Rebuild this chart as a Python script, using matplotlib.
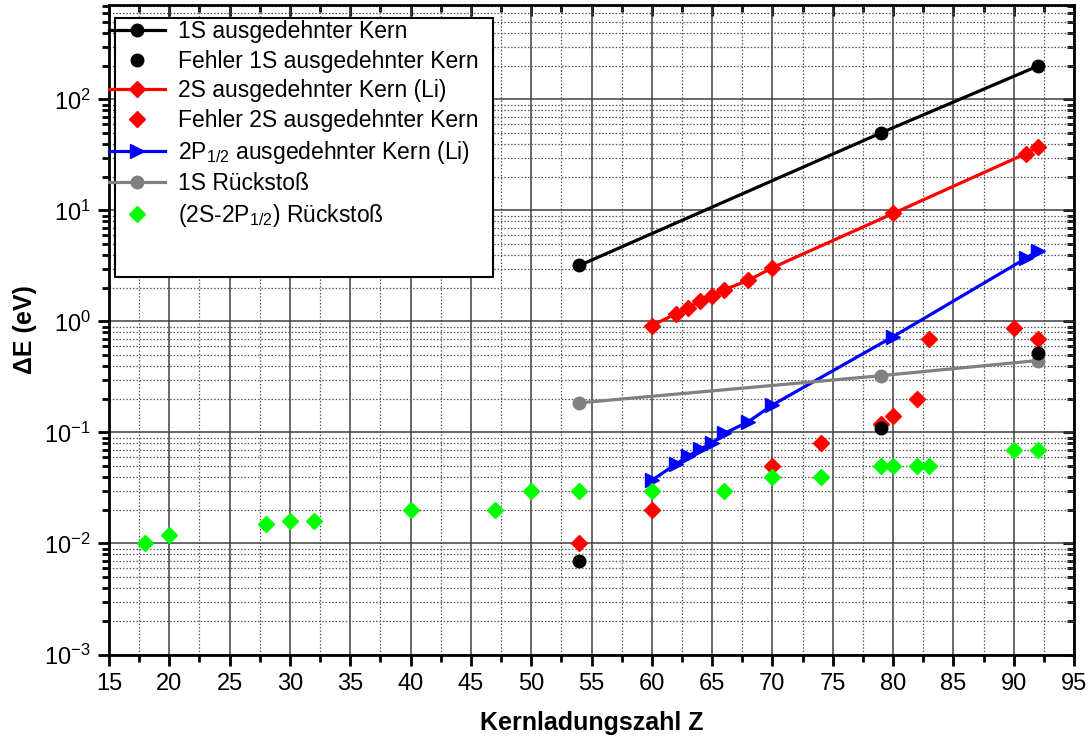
import numpy as np
import matplotlib
matplotlib.use("Agg")
import matplotlib.pyplot as plt
from matplotlib.ticker import MultipleLocator, LogLocator
from matplotlib.patches import Rectangle

plt.rcParams['font.family'] = ['Liberation Sans', 'DejaVu Sans']
plt.rcParams['mathtext.fontset'] = 'custom'
plt.rcParams['mathtext.rm'] = 'Liberation Sans'
plt.rcParams['mathtext.it'] = 'Liberation Sans:italic'
plt.rcParams['mathtext.bf'] = 'Liberation Sans:bold'

# 1S, ausgedehnter Kern
z_1s = [54, 79, 92]
e_1s = [3.2, 50, 200]
err_1s = [0.007, 0.11, 0.52]

# 2S, ausgedehnter Kern (Li)
z_2s = [60, 62, 63, 64, 65, 66, 68, 70, 80, 91, 92]
e_2s = [0.92, 1.17, 1.33, 1.52, 1.68, 1.93, 2.35, 3.05, 9.4, 32.5, 37.5]
z_err2s = [54, 60, 70, 74, 79, 80, 82, 83, 90, 92]
err_2s = [0.01, 0.02, 0.05, 0.08, 0.12, 0.14, 0.2, 0.69, 0.88, 0.69]

# 2P1/2, ausgedehnter Kern (Li)
z_2p = [60, 62, 63, 64, 65, 66, 68, 70, 80, 91, 92]
e_2p = [0.037, 0.052, 0.061, 0.071, 0.08, 0.098, 0.125, 0.177, 0.73, 3.7, 4.35]

# Rueckstoss
z_rec1s = [54, 79, 92]
e_rec1s = [0.185, 0.325, 0.445]
z_rec2s = [18, 20, 28, 30, 32, 40, 47, 50, 54, 60, 66, 70, 74, 79, 80, 82, 83, 90, 92]
e_rec2s = [0.01, 0.012, 0.015, 0.016, 0.016, 0.02, 0.02, 0.03, 0.03, 0.03,
           0.03, 0.04, 0.04, 0.05, 0.05, 0.05, 0.05, 0.07, 0.07]

W, H = 1091, 744
L, R, T, B = 109, 1074, 5, 654.5
fig = plt.figure(figsize=(W/100, H/100), dpi=100)
ax = fig.add_axes([L/W, 1-B/H, (R-L)/W, (B-T)/H])

lw = 2.3
ax.plot(z_1s, e_1s, '-o', color='black', lw=lw, ms=9, label='1S ausgedehnter Kern', zorder=6)
ax.plot(z_1s, err_1s, 'o', color='black', ms=9, label='Fehler 1S ausgedehnter Kern', zorder=7)
ax.plot(z_2s, e_2s, '-D', color='red', lw=lw, ms=8.5, label='2S ausgedehnter Kern (Li)', zorder=6)
ax.plot(z_err2s, err_2s, 'D', color='red', ms=8.5, label='Fehler 2S ausgedehnter Kern', zorder=6)
ax.plot(z_2p, e_2p, '->', color='blue', lw=lw, ms=9.5, label=r'2P$_{\mathregular{1/2}}$ ausgedehnter Kern (Li)', zorder=6)
ax.plot(z_rec1s, e_rec1s, '-o', color='#808080', lw=lw, ms=9, label='1S Rückstoß', zorder=6)
ax.plot(z_rec2s, e_rec2s, 'D', color='#00ff00', ms=8.5, label=r'(2S-2P$_{\mathregular{1/2}}$) Rückstoß', zorder=6)

ax.set_yscale('log')
ax.set_xlim(15, 95)
ax.set_ylim(1e-3, 710)
ax.xaxis.set_major_locator(MultipleLocator(5))
ax.xaxis.set_minor_locator(MultipleLocator(2.5))
ax.yaxis.set_major_locator(LogLocator(base=10, numticks=20))
ax.yaxis.set_minor_locator(LogLocator(base=10, subs=np.arange(2, 10), numticks=20))

ax.grid(which='major', color='#404040', lw=1.1, ls='-')
ax.grid(which='minor', color='#555555', lw=0.9, ls=(0, (1.2, 1.5)))
ax.set_axisbelow(True)

for s in ax.spines.values():
    s.set_linewidth(2)
ax.tick_params(which='both', direction='out', top=False, right=False, width=2,
               labelsize=17, pad=5)
ax.tick_params(which='major', length=8)
ax.tick_params(which='minor', length=5)
# inward ticks on the top and right edges
ax2 = ax.secondary_xaxis('top')
ax2.xaxis.set_major_locator(MultipleLocator(5))
ax2.xaxis.set_minor_locator(MultipleLocator(2.5))
ax2.tick_params(which='both', direction='in', width=2, labeltop=False)
ax2.tick_params(which='major', length=8)
ax2.tick_params(which='minor', length=5)
ax3 = ax.secondary_yaxis('right')
ax3.yaxis.set_major_locator(LogLocator(base=10, numticks=20))
ax3.yaxis.set_minor_locator(LogLocator(base=10, subs=np.arange(2, 10), numticks=20))
ax3.tick_params(which='both', direction='in', width=2, labelright=False)
ax3.tick_params(which='major', length=8)
ax3.tick_params(which='minor', length=5)

ax.set_xlabel('Kernladungszahl Z', fontsize=18, fontweight='bold', labelpad=12)
ax.set_ylabel(r'ΔE (eV)', fontsize=18, fontweight='bold', labelpad=5)

box = Rectangle(((115-L)/(R-L), (B-277)/(B-T)), (493-115)/(R-L), (277-18)/(B-T),
                transform=ax.transAxes, facecolor='white', edgecolor='black',
                lw=1.5, zorder=9)
ax.add_patch(box)
leg = ax.legend(loc='upper left', bbox_to_anchor=(0.0, 1-15/(B-T)), borderaxespad=0,
                borderpad=0.0, frameon=False, fontsize=16.5, handlelength=2.45,
                handletextpad=0.55, labelspacing=0.29)
leg.set_zorder(10)

fig.savefig('out.png', dpi=100)
